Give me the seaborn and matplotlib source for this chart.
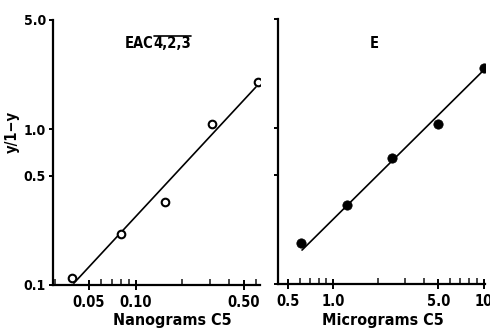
import matplotlib
matplotlib.use("Agg")
import matplotlib.pyplot as plt
import matplotlib.ticker as mticker
import numpy as np
import pandas as pd
import seaborn as sns

# EAC4,2,3 titration (nanograms C5)
nano_x = [0.039, 0.080, 0.155, 0.311, 0.615]
nano_y = [0.111, 0.212, 0.34, 1.08, 2.0]
nano_fit_x = [0.0406, 0.597]
nano_fit_y = [0.1045, 1.86]

# E titration (micrograms C5)
micro_x = [0.612, 1.24, 2.47, 5.0, 10.0]
micro_y = [0.183, 0.321, 0.642, 1.06, 2.43]
micro_fit_x = [0.621, 10.0]
micro_fit_y = [0.165, 2.35]

y_ticks = [0.1, 0.5, 1.0, 5.0]
y_tick_labels = ["0.1", "0.5", "1.0", "5.0"]
nano_ticks = [0.05, 0.10, 0.50]
nano_tick_labels = ["0.05", "0.10", "0.50"]
micro_ticks = [0.5, 1.0, 5.0, 10.0]
micro_tick_labels = ["0.5", "1.0", "5.0", "10"]

sns.set_style("ticks")
plt.rcParams["font.family"] = ["DejaVu Sans"]
plt.rcParams["font.stretch"] = "condensed"
plt.rcParams["font.weight"] = "bold"
plt.rcParams["text.color"] = "black"

W, H = 490, 329
fig = plt.figure(figsize=(W / 100, H / 100), dpi=100)


def rect(x0, y0, x1, y1):
    return [x0 / W, 1 - y1 / H, (x1 - x0) / W, (y1 - y0) / H]


ax1 = fig.add_axes(rect(53, 20, 260, 285))
ax2 = fig.add_axes(rect(278, 19, 485, 284))

nano = pd.DataFrame({"x": nano_x, "y": nano_y})
micro = pd.DataFrame({"x": micro_x, "y": micro_y})
nano_fit = pd.DataFrame({"x": nano_fit_x, "y": nano_fit_y})
micro_fit = pd.DataFrame({"x": micro_fit_x, "y": micro_fit_y})

sns.lineplot(data=nano_fit, x="x", y="y", ax=ax1, color="black", lw=1.2)
sns.scatterplot(data=nano, x="x", y="y", ax=ax1, marker="o", s=30,
                facecolor="white", edgecolor="black", linewidth=1.5, zorder=3)
sns.lineplot(data=micro_fit, x="x", y="y", ax=ax2, color="black", lw=1.2)
sns.scatterplot(data=micro, x="x", y="y", ax=ax2, marker="o", s=45,
                color="black", edgecolor="black", zorder=3)

for ax in (ax1, ax2):
    ax.set_xscale("log")
    ax.set_yscale("log")
    ax.set_ylim(0.1, 5.0)
    sns.despine(ax=ax)
    for side in ("left", "bottom"):
        ax.spines[side].set_linewidth(1.6)
        ax.spines[side].set_color("black")
    ax.xaxis.set_minor_locator(mticker.LogLocator(base=10, subs=np.arange(2, 10)))
    ax.xaxis.set_minor_formatter(mticker.NullFormatter())
    ax.yaxis.set_minor_locator(mticker.NullLocator())
    ax.set_yticks(y_ticks)
    ax.tick_params(axis="x", which="major", direction="inout", length=7, width=1.4,
                   labelsize=10.5, pad=4, colors="black")
    ax.tick_params(axis="x", which="minor", direction="in", length=4, width=1.2)
    ax.tick_params(axis="y", which="major", direction="out", length=3, width=1.4,
                   labelsize=10, pad=2, colors="black")
    ax.set_ylabel("")
    ax.set_xlabel("")

ax1.set_xlim(0.0293, 0.634)
ax1.set_xticks(nano_ticks)
ax1.set_xticklabels(nano_tick_labels, fontweight="bold")
ax1.set_yticklabels(y_tick_labels, fontweight="bold")

ax2.set_xlim(0.43, 10.2)
ax2.set_xticks(micro_ticks)
ax2.set_xticklabels(micro_tick_labels, fontweight="bold")
ax2.set_yticklabels([])

fig.text(12 / W, 1 - 132 / H, "y/1\u2212y", ha="center", va="center",
         rotation=90, fontsize=10.5, fontweight="bold")
fig.text(172 / W, 1 - 320 / H, "Nanograms C5", ha="center", va="center",
         fontsize=11.5, fontweight="bold")
fig.text(383 / W, 1 - 320 / H, "Micrograms C5", ha="center", va="center",
         fontsize=11.5, fontweight="bold")

# panel title with an overline over the allotype digits
t_left = fig.text(153 / W, 1 - 44 / H, "EAC", ha="right", va="center",
                  fontsize=10.5, fontweight="bold")
t_right = fig.text(153 / W, 1 - 44 / H, "4,2,3", ha="left", va="center",
                   fontsize=10.5, fontweight="bold")
fig.text(374 / W, 1 - 44 / H, "E", ha="center", va="center",
         fontsize=10.5, fontweight="bold")

fig.canvas.draw()
bb = t_right.get_window_extent(renderer=fig.canvas.get_renderer())
bb = bb.transformed(fig.transFigure.inverted())
y_bar = bb.y1 + 1.0 / H
fig.add_artist(plt.Line2D([bb.x0 + 1 / W, bb.x1], [y_bar, y_bar],
                          transform=fig.transFigure, color="black", lw=1.2))

fig.savefig("out.png", dpi=100)
